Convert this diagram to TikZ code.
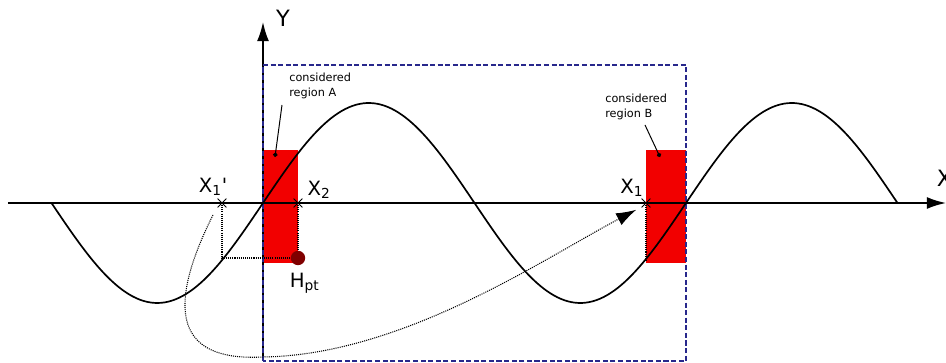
\documentclass[tikz,border=0pt]{standalone}
\usepackage{fontspec}
\setmainfont{DejaVu Sans}
\usepackage{xcolor}
\definecolor{boxred}{RGB}{242,  0,   0}
\definecolor{ptred}{RGB}{128,  0,   0}
\definecolor{navy}{RGB}{ 40, 40, 140}
\usetikzlibrary{arrows.meta, positioning, shapes.misc, calc}
\tikzset{
  axisline/.style={line width=1.3pt, -{Latex[length=0.48cm, width=0.3cm]}},
  wave/.style={line width=1.2pt},
  regionbox/.style={fill=boxred, draw=none, inner sep=0pt,
    minimum height=2.825cm},
  windowbox/.style={draw=navy, line width=0.75pt,
    dash pattern=on 3.6pt off 1.8pt},
  crossmark/.style={draw, cross out, line width=0.6pt,
    minimum size=0.2cm, inner sep=0pt},
  ptdot/.style={circle, fill=ptred, minimum size=0.36cm, inner sep=0pt},
  axislabel/.style={font=\fontsize{16}{18}\selectfont, inner sep=0pt},
  pointlabel/.style={font=\fontsize{14}{16}\selectfont, inner sep=0pt},
  notetext/.style={font=\fontsize{8}{10.7}\selectfont, align=left, inner sep=0pt},
  calloutline/.style={line width=0.7pt, {Circle[length=3.2pt]}-},
  hintline/.style={line width=0.75pt, dash pattern=on 0.75pt off 0.75pt},
  maparrow/.style={line width=0.75pt, dash pattern=on 0.75pt off 0.75pt,
    -{Latex[length=0.5cm, width=0.33cm]}}
}

\begin{document}
\begin{tikzpicture}

  %% Frame
  \useasboundingbox (-6.575,-4.0) rectangle (17.075,5.075);

  %% Considered regions
  \node[regionbox, minimum width=0.875cm] (regA) at (0.4375,-0.0875) {};
  \node[regionbox, minimum width=1.0cm] (regB) at (10.075,-0.0875) {};

  %% Axes
  \coordinate (xstart) at (-6.375,0);
  \coordinate (xend) at (17.075,0);
  \coordinate (ystart) at (0,-3.95);
  \coordinate (yend) at (0,4.525);
  \draw[axisline] (xstart) -- (xend);
  \draw[axisline] (ystart) -- (yend);
  \node[axislabel] (ylabel) at (0.5,4.625) {Y};
  \node[axislabel] (xlabel) at (17.04,0.61) {X};

  %% Window
  \draw[windowbox] (0,-3.95) rectangle (10.575,3.45);

  %% Wave
  \draw[wave] plot[domain=-5.2875:15.8625, samples=240]
    (\x, {2.5*sin(360*\x/10.575)});

  %% Points
  \node[crossmark] (x1p) at (-1.025,0) {};
  \node[crossmark] (x2) at (0.875,0) {};
  \node[crossmark] (x1) at (9.575,0) {};
  \node[ptdot] (hpt) at (0.875,-1.375) {};
  \coordinate (corner) at (-1.025,-1.375);
  \coordinate (x1foot) at (9.575,-1.45);

  \node[pointlabel] (x1plabel) at (-1.25,0.4) {X\textsubscript{1}\textquotesingle};
  \node[pointlabel] (x2label) at (1.4,0.33) {X\textsubscript{2}};
  \node[pointlabel] (x1label) at (9.22,0.38) {X\textsubscript{1}};
  \node[pointlabel] (hptlabel) at (1.04,-2.0) {H\textsubscript{pt}};

  %% Helper lines
  \draw[hintline] (x1p.center) -- (corner) -- (hpt);
  \draw[hintline] (x2.center) -- (hpt);
  \draw[hintline] (x1.center) -- (x1foot);

  %% Mapping arrow
  \coordinate (arcstart) at (-1.25,-0.3);
  \coordinate (arcend) at (9.33,-0.17);
  \draw[maparrow] (arcstart) .. controls (-2.6,-3.0) and (-1.9,-3.95) .. (0,-3.85)
    .. controls (3.5,-3.8) and (7.0,-1.4) .. (arcend);

  %% Callouts
  \node[notetext] (notea) at (1.43,2.93) {considered\\region A};
  \node[notetext] (noteb) at (9.33,2.4) {considered\\region B};
  \coordinate (dotA) at (0.3,1.15);
  \coordinate (tailA) at (0.475,2.45);
  \coordinate (dotB) at (9.925,1.15);
  \coordinate (tailB) at (9.55,1.95);
  \draw[calloutline] (dotA) -- (tailA);
  \draw[calloutline] (dotB) -- (tailB);

\end{tikzpicture}
\end{document}
